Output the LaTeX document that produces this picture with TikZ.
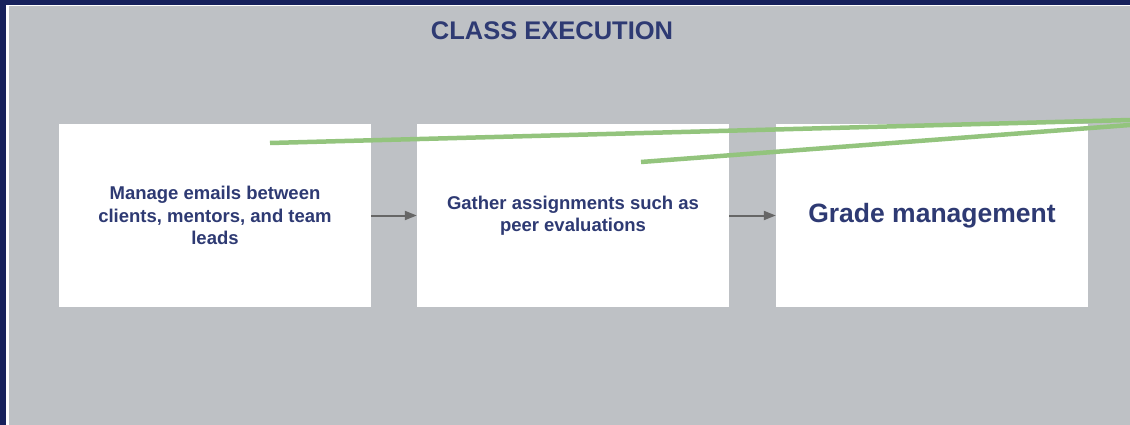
\documentclass[tikz,border=0pt]{standalone}
\usepackage{fontspec}
\setmainfont{Liberation Sans}
\usetikzlibrary{positioning,arrows.meta}

\definecolor{navy}{HTML}{17215C}
\definecolor{slate}{HTML}{BEC1C5}
\definecolor{inktext}{HTML}{2E3A73}
\definecolor{leaf}{HTML}{93C47D}

\begin{document}
\begin{tikzpicture}[x=1pt, y=-1pt,
            step box/.style={fill=white, minimum width=312pt, minimum height=183pt,
                             inner sep=0pt, align=center, text=inktext},
            small text/.style={font=\fontsize{18.5}{22.4}\selectfont\bfseries},
            big text/.style={font=\fontsize{26.5}{30}\selectfont\bfseries},
            flow/.style={draw=black!60, line width=2pt, -{Triangle[length=12pt,width=9pt]}},
            note/.style={draw=leaf, line width=4.5pt},]

        % Background and frame
        \useasboundingbox (0,0) rectangle (1130,425);
        \fill[navy]  (0,0) rectangle (1130,425);
        \fill[white] (6,4.7) rectangle (1130,425);
        \fill[slate] (8.5,6.5) rectangle (1130,425);

        % Title
        \node[text=inktext, font=\fontsize{25.5}{30}\selectfont\bfseries] (titulo) at (552, 31) {CLASS EXECUTION};

        % Nodes etapas
        \node[step box, small text] (etapa1) at (215, 215.5)
            {Manage emails between\\ clients, mentors, and team\\ leads};
        \node[step box, small text] (etapa2) at (573, 215.5)
            {Gather assignments such as\\ peer evaluations};
        \node[step box, big text]   (etapa3) at (932, 215.5)
            {Grade management};

        \foreach \src/\dest in {1/2,2/3}
            \draw[flow] (etapa\src) -- (etapa\dest);

        % Green strokes
        \coordinate (traco1a) at (270, 143);
        \coordinate (traco1b) at (1130, 120);
        \coordinate (traco2a) at (641, 162);
        \coordinate (traco2b) at (1130, 125);
        \draw[note] (traco1a) -- (traco1b);
        \draw[note] (traco2a) -- (traco2b);
    \end{tikzpicture}
\end{document}
